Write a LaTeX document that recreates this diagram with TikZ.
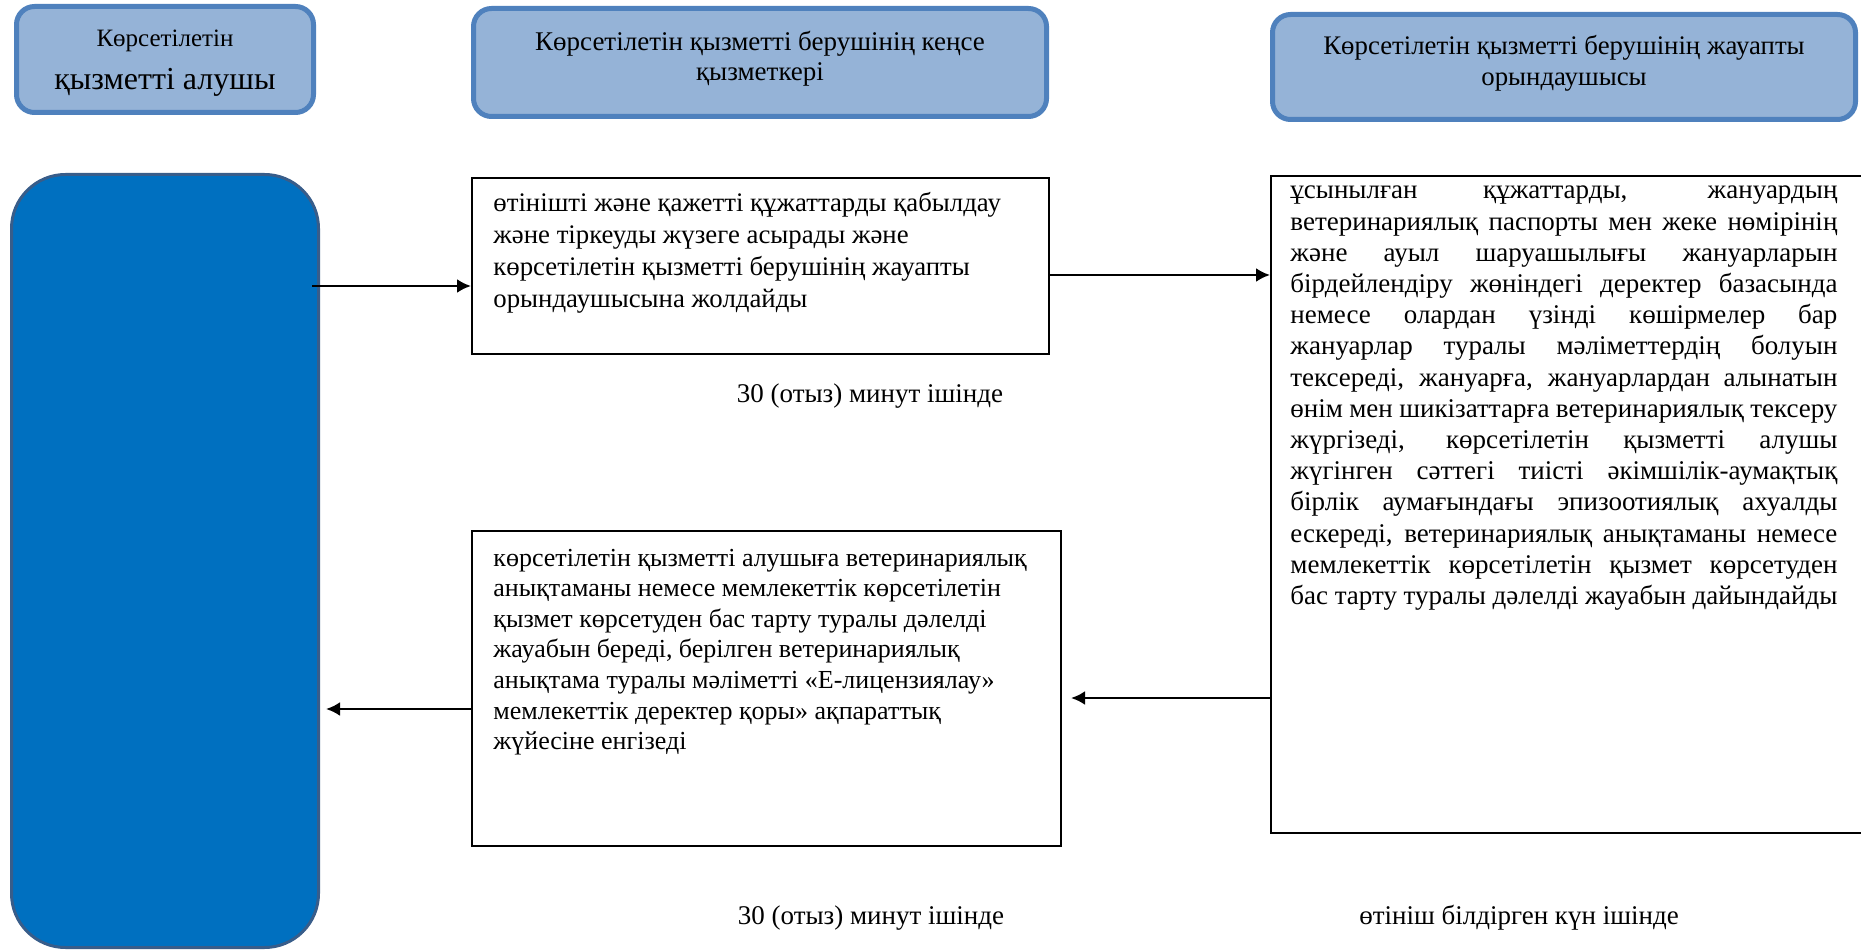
\documentclass[tikz,border=0pt]{standalone}
\usepackage{fontspec}
\setmainfont{Liberation Serif}
\usetikzlibrary{arrows.meta}
\definecolor{hdrfill}{HTML}{95B3D7}
\definecolor{hdrline}{HTML}{4F81BD}
\definecolor{bigfill}{HTML}{0070C0}
\definecolor{bigline}{HTML}{385D8A}
\tikzset{
  hdr/.style={draw=hdrline, line width=2.5pt, fill=hdrfill, rounded corners=9pt, inner sep=0pt},
  bigbox/.style={draw=bigline, line width=1.5pt, fill=bigfill, rounded corners=27pt, inner sep=0pt},
  stepbox/.style={draw=black, line width=1pt, fill=white, inner sep=0pt},
  txt/.style={inner sep=0pt, anchor=base west},
  lbl/.style={inner sep=0pt, font=\fontsize{13.5}{15}\selectfont},
  arr/.style={line width=1.3pt, -{Latex[length=7pt,width=7pt]}}
}
\begin{document}
\begin{tikzpicture}[x=0.5pt,y=-0.5pt]
\useasboundingbox (0,0) rectangle (1861,951);
% headers
\node[hdr, minimum width=148.5pt, minimum height=53pt] (h1) at (165,59.5) {};
\node[inner sep=0pt, align=center] at (165,63) {\fontsize{12.5}{19}\selectfont Көрсетілетін\\[7pt]\fontsize{16}{19}\selectfont қызметті алушы};
\node[hdr, minimum width=286.5pt, minimum height=54pt] (h2) at (760,62.5) {};
\node[inner sep=0pt, align=center, font=\fontsize{13.5}{14.8}\selectfont] at (760,58.5) {Көрсетілетін қызметті берушінің кеңсе\\қызметкері};
\node[hdr, minimum width=291.5pt, minimum height=52.5pt] (h3) at (1564,67) {};
\node[inner sep=0pt, align=center, font=\fontsize{13.4}{15.4}\selectfont] at (1564,63.5) {Көрсетілетін қызметті берушінің жауапты\\орындаушысы};
% big recipient box
\node[bigbox, minimum width=153.5pt, minimum height=386.5pt] (rcv) at (165,561) {};
% box A
\node[stepbox, minimum width=288.5pt, minimum height=88pt] (a) at (760.5,266) {};
\node[txt] (at) at (493,212) {\parbox[t]{290pt}{\fontsize{13.4}{16}\selectfont\raggedright
өтінішті және қажетті құжаттарды қабылдау\\
және тіркеуды жүзеге асырады және\\
көрсетілетін қызметті берушінің жауапты\\
орындаушысына жолдайды}};
% box C
\node[stepbox, minimum width=304.5pt, minimum height=328.5pt] (c) at (1575.5,504.5) {};
\node[txt] (ct) at (1290,199) {\parbox[t]{273.5pt}{\fontsize{13.5}{15.6}\selectfont
ұсынылған құжаттарды, жануардың\linebreak
ветеринариялық паспорты мен жеке нөмірінің\linebreak
және ауыл шаруашылығы жануарларын\linebreak
бірдейлендіру жөніндегі деректер базасында\linebreak
немесе олардан үзінді көшірмелер бар\linebreak
жануарлар туралы мәліметтердің болуын\linebreak
тексереді, жануарға, жануарлардан алынатын\linebreak
өнім мен шикізаттарға ветеринариялық тексеру\linebreak
жүргізеді, көрсетілетін қызметті алушы\linebreak
жүгінген сәттегі тиісті әкімшілік-аумақтық\linebreak
бірлік аумағындағы эпизоотиялық ахуалды\linebreak
ескереді, ветеринариялық анықтаманы немесе\linebreak
мемлекеттік көрсетілетін қызмет көрсетуден\linebreak
бас тарту туралы дәлелді жауабын дайындайды}};
% box B
\node[stepbox, minimum width=294.5pt, minimum height=157.5pt] (b) at (766.5,688.5) {};
\node[txt] (bt) at (493,566) {\parbox[t]{290pt}{\fontsize{13}{15.3}\selectfont\raggedright
көрсетілетін қызметті алушыға ветеринариялық\\
анықтаманы немесе мемлекеттік көрсетілетін\\
қызмет көрсетуден бас тарту туралы дәлелді\\
жауабын береді, берілген ветеринариялық\\
анықтама туралы мәліметті «Е-лицензиялау»\\
мемлекеттік деректер қоры» ақпараттық\\
жүйесіне енгізеді}};
% time labels
\node[lbl] (t1) at (870,396) {30 (отыз) минут ішінде};
\node[lbl] (t2) at (871,918) {30 (отыз) минут ішінде};
\node[lbl] (t3) at (1519,918) {өтініш білдірген күн ішінде};
% connectors
\coordinate (s1) at (312,286);
\draw[arr] (s1) -- (a.west |- s1);
\coordinate (s2) at (1049,275);
\draw[arr] (s2) -- (c.west |- s2);
\coordinate (s3) at (1271,698);
\coordinate (e3) at (1071,698);
\draw[arr] (s3) -- (e3);
\coordinate (s4) at (472,709);
\coordinate (e4) at (326,709);
\draw[arr] (s4) -- (e4);
\end{tikzpicture}
\end{document}
